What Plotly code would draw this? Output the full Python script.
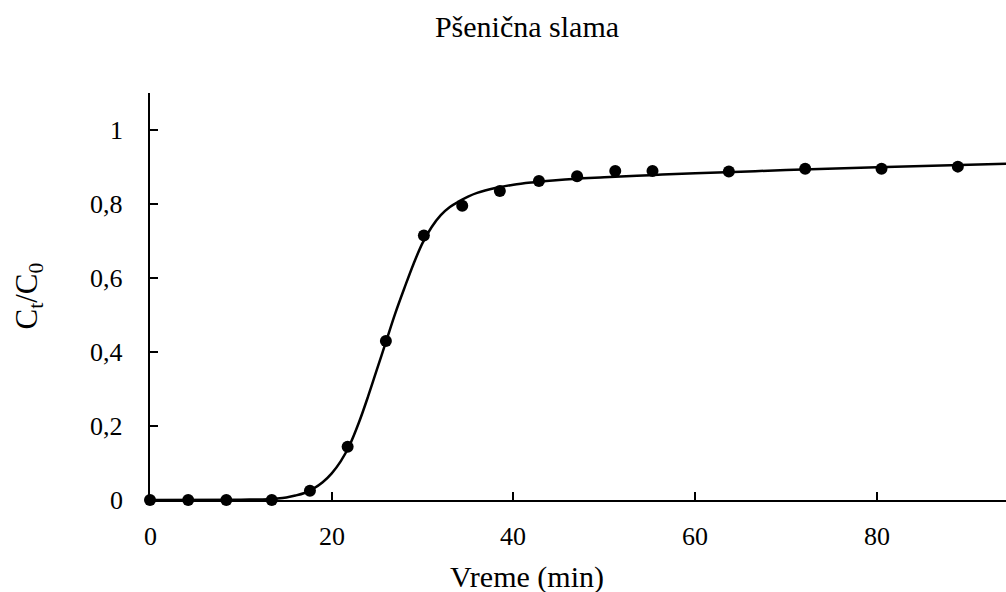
import plotly.graph_objects as go

# Measured points
time_min = [0, 4.2, 8.4, 13.4, 17.6, 21.75, 25.96, 30.14, 34.36, 38.5, 42.8, 47.0, 51.2, 55.3, 63.7, 72.1, 80.5, 88.9]
ct_c0 = [0.0, 0.0, 0.0, 0.0, 0.025, 0.144, 0.430, 0.715, 0.795, 0.835, 0.862, 0.875, 0.889, 0.889, 0.888, 0.895, 0.895, 0.901]

# Fitted curve
fit_x = [0, 10, 13, 14, 15, 16, 17, 18, 19, 20, 21, 22, 23, 24, 25, 26, 27, 28, 29, 30,
         31, 32, 33, 34, 35, 36, 38, 40, 42, 45, 50, 55, 60, 65, 70, 80, 94.2]
fit_y = [0.0, 0.001, 0.002, 0.004, 0.007, 0.012, 0.019, 0.031, 0.048, 0.072, 0.105, 0.15, 0.21,
         0.28, 0.355, 0.43, 0.505, 0.573, 0.638, 0.695, 0.738, 0.77, 0.792, 0.807, 0.82, 0.83,
         0.843, 0.852, 0.858, 0.865, 0.872, 0.878, 0.883, 0.887, 0.892, 0.899, 0.909]

x_ticks = [0, 20, 40, 60, 80]
x_tick_text = ["0", "20", "40", "60", "80"]
y_ticks = [0, 0.2, 0.4, 0.6, 0.8, 1]
y_tick_text = ["0", "0,2", "0,4", "0,6", "0,8", "1"]

FONT = "Liberation Serif, Times New Roman, serif"
W, H = 1006, 592
L, R, T, B = 150, 0, 93, 92
X_RANGE = [0, 94.2]
Y_RANGE = [0, 1.1]
TICK_FONT = dict(family=FONT, size=26, color="black")

fig = go.Figure()
fig.add_trace(go.Scatter(x=fit_x, y=fit_y, mode="lines",
                         line=dict(color="black", width=2.5, shape="spline", smoothing=1.0),
                         cliponaxis=False, showlegend=False, hoverinfo="skip"))
fig.add_trace(go.Scatter(x=time_min, y=ct_c0, mode="markers",
                         marker=dict(color="black", size=12),
                         cliponaxis=False, showlegend=False))

annotations = []
# tick labels placed against the axes
for v, t in zip(x_ticks, x_tick_text):
    annotations.append(dict(text=t, x=v, xref="x", y=0, yref="paper",
                            xanchor="center", yanchor="middle", yshift=-36,
                            showarrow=False, font=TICK_FONT))
for v, t in zip(y_ticks, y_tick_text):
    annotations.append(dict(text=t, x=0, xref="paper", y=v, yref="y",
                            xanchor="right", yanchor="middle", xshift=-25,
                            showarrow=False, font=TICK_FONT))
annotations += [
    dict(text="Vreme (min)", xref="paper", yref="paper",
         x=(527 - L) / (W - L - R), y=-(577 - (H - B)) / (H - T - B),
         xanchor="center", yanchor="middle", showarrow=False,
         font=dict(family=FONT, size=30, color="black")),
    dict(text="C<sub>t</sub>/C<sub>0</sub>", xref="paper", yref="paper",
         x=-(L - 28) / (W - L - R), y=0.5, textangle=-90,
         xanchor="center", yanchor="middle", showarrow=False,
         font=dict(family=FONT, size=31, color="black")),
]

fig.update_layout(
    width=W, height=H,
    margin=dict(l=L, r=R, t=T, b=B, pad=0),
    paper_bgcolor="white", plot_bgcolor="white",
    font=dict(family=FONT, size=25, color="black"),
    title=dict(text="Pšenična slama", x=527 / W, xref="container", xanchor="center",
               y=1 - 26 / H, yref="container", yanchor="middle",
               font=dict(family=FONT, size=30, color="black")),
    xaxis=dict(range=X_RANGE, tickvals=x_ticks, showticklabels=False,
               showgrid=False, zeroline=False, showline=True, linecolor="black", linewidth=2,
               ticks="inside", ticklen=8, tickwidth=2, tickcolor="black"),
    yaxis=dict(range=Y_RANGE, tickvals=y_ticks, showticklabels=False,
               showgrid=False, zeroline=False, showline=True, linecolor="black", linewidth=2,
               ticks="inside", ticklen=8, tickwidth=2, tickcolor="black"),
    annotations=annotations,
)

fig.write_html("out.html")
